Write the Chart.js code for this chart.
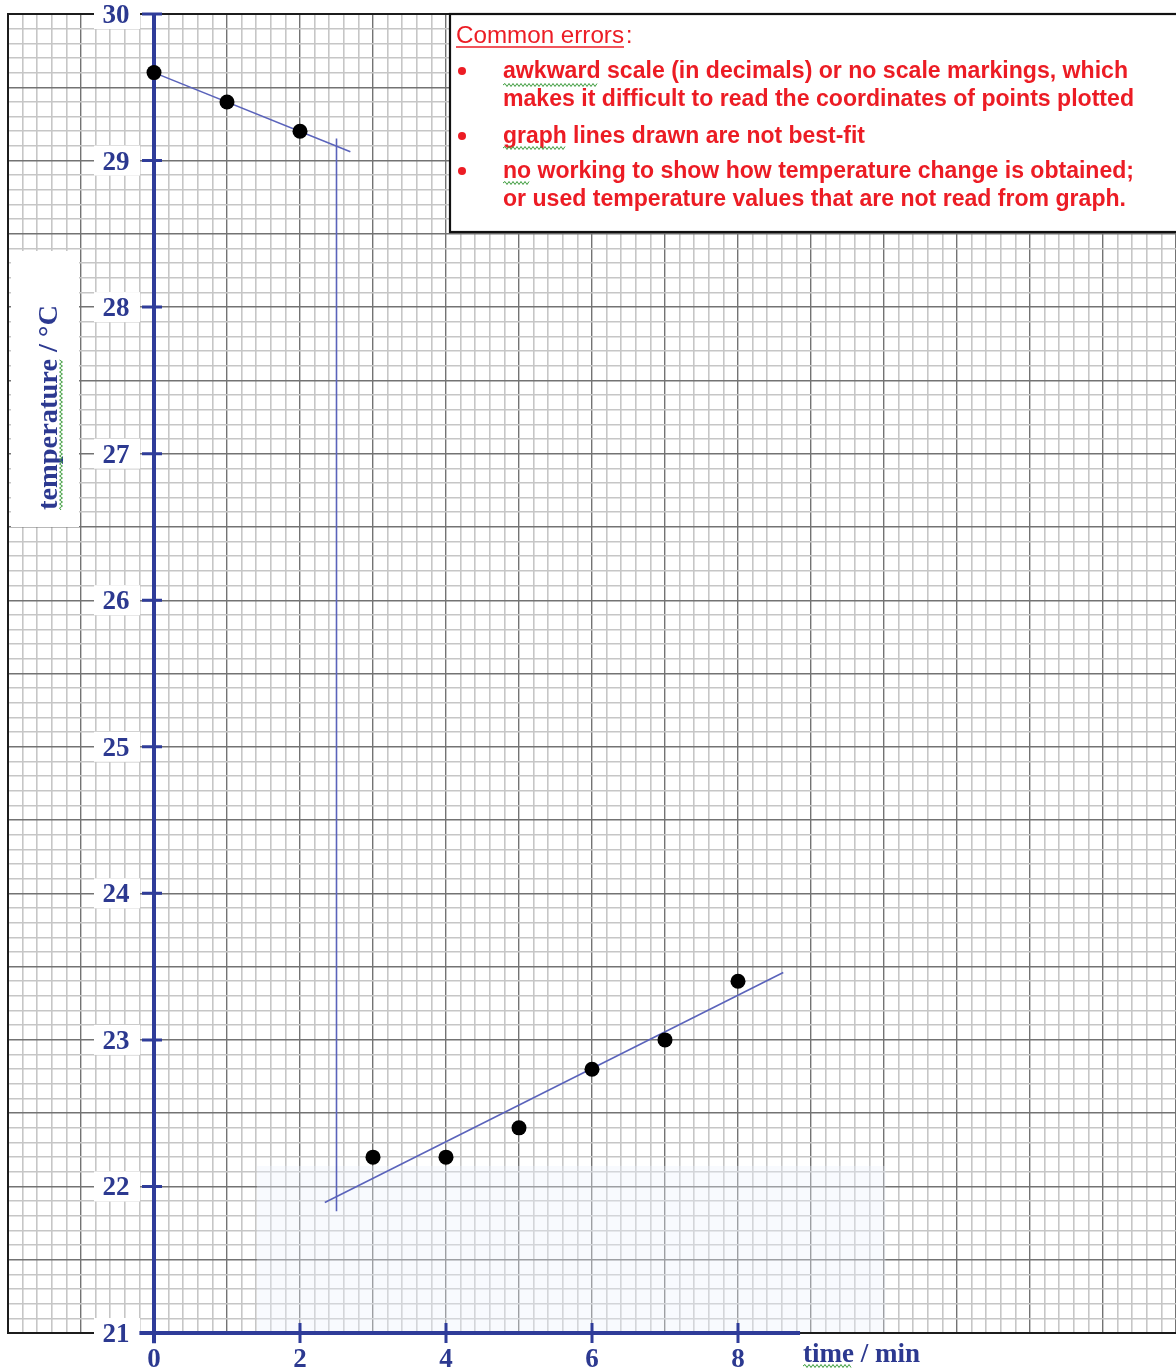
<!DOCTYPE html>
<html>
<head>
<meta charset="utf-8">
<script src="https://cdn.jsdelivr.net/npm/chart.js@4.4.1/dist/chart.umd.min.js"></script>
<style>
  html, body { margin: 0; padding: 0; background: #fff; }
  canvas { display: block; }
</style>
</head>
<body>
<canvas id="graph" width="1176" height="1371"></canvas>
<script>
// readings taken every minute
const times = [0, 1, 2, 3, 4, 5, 6, 7, 8];
const temps = [29.6, 29.4, 29.2, 22.2, 22.2, 22.4, 22.8, 23.0, 23.4];

// lines drawn by hand on the paper
const coolLineX = [0, 2.69];
const coolLineY = [29.6, 29.06];
const dropLineX = [2.5, 2.5];
const dropLineY = [29.15, 21.83];
const warmLineX = [2.34, 8.62];
const warmLineY = [21.89, 23.46];

// drawn axes
const xAxisX = [-0.2, 8.85];
const xAxisY = [21, 21];
const yAxisX = [0, 0];
const yAxisY = [20.93, 30];
const xTickLabels = [0, 2, 4, 6, 8];
const yTickLabels = [21, 22, 23, 24, 25, 26, 27, 28, 29, 30];

const noteTitle = "Common errors";
const notes = [
    ["awkward scale (in decimals) or no scale markings, which",
     "makes it difficult to read the coordinates of points plotted"],
    ["graph lines drawn are not best-fit"],
    ["no working to show how temperature change is obtained;",
     "or used temperature values that are not read from graph."]
];

const AXIS_BLUE = '#2f3c99';
const LINE_BLUE = '#5a63bb';
const LABEL_BLUE = '#2c3990';
const RED = '#ec1c24';
const SERIF = '"Liberation Serif", "DejaVu Serif", serif';
const SANS = '"Liberation Sans", Arial, sans-serif';

function pts(xs, ys) {
    return xs.map((x, i) => ({ x: x, y: ys[i] }));
}

function isMajor(v, step) {
    let r = v / step;
    return Math.abs(r - Math.round(r)) < 1e-6;
}

function wavy(ctx, x1, x2, y) {
    ctx.save();
    ctx.strokeStyle = '#3b9b3b';
    ctx.lineWidth = 1;
    ctx.beginPath();
    ctx.moveTo(x1, y);
    let up = true;
    for (let x = x1 + 2; x <= x2; x += 2) {
        ctx.lineTo(x, up ? y - 1.5 : y + 1.5);
        up = !up;
    }
    ctx.stroke();
    ctx.restore();
}

// draw text stretched or squeezed to a given width
function fitText(ctx, text, x, y, width) {
    let w = ctx.measureText(text).width;
    ctx.save();
    ctx.translate(x, y);
    ctx.scale(width / w, 1);
    ctx.fillText(text, 0, 0);
    ctx.restore();
}

const paperPlugin = {
    id: 'paper',
    beforeDatasetsDraw(chart) {
        const ctx = chart.ctx;
        const a = chart.chartArea;
        const xs = chart.scales.x;
        const ys = chart.scales.y;
        const x0 = xs.getPixelForValue(0);

        ctx.save();
        // faded patch left by the scan watermark
        let wx1 = xs.getPixelForValue(1.41), wx2 = xs.getPixelForValue(10.02);
        let wy = ys.getPixelForValue(22.14);
        ctx.fillStyle = 'rgba(236, 242, 252, 0.35)';
        ctx.fillRect(wx1, wy, wx2 - wx1, a.bottom - wy);

        // edge of the printed grid
        ctx.strokeStyle = '#1c1c1c';
        ctx.lineWidth = 2;
        ctx.strokeRect(a.left, a.top, a.right - a.left + 4, a.bottom - a.top);

        // white patches behind the tick numbers and the title
        ctx.fillStyle = '#fff';
        yTickLabels.forEach(v => {
            let py = ys.getPixelForValue(v);
            ctx.fillRect(x0 - 60, py - 15, 46, 30);
        });
        ctx.fillRect(a.left + 3, 251, 68, 276);
        ctx.restore();
    },
    afterDatasetsDraw(chart) {
        const ctx = chart.ctx;
        const a = chart.chartArea;
        const xs = chart.scales.x;
        const ys = chart.scales.y;
        const x0 = xs.getPixelForValue(0);
        const y0 = ys.getPixelForValue(21);

        ctx.save();
        // tick marks
        ctx.strokeStyle = AXIS_BLUE;
        ctx.lineWidth = 3;
        ctx.beginPath();
        yTickLabels.forEach(v => {
            let py = ys.getPixelForValue(v);
            ctx.moveTo(x0 - 12, py);
            ctx.lineTo(x0 + 8, py);
        });
        xTickLabels.forEach(v => {
            if (v === 0) return;
            let px = xs.getPixelForValue(v);
            ctx.moveTo(px, y0 - 10);
            ctx.lineTo(px, y0 + 10);
        });
        ctx.stroke();

        // tick numbers
        ctx.fillStyle = LABEL_BLUE;
        ctx.font = 'bold 27px ' + SERIF;
        ctx.textAlign = 'center';
        ctx.textBaseline = 'alphabetic';
        yTickLabels.forEach(v => {
            ctx.fillText(String(v), x0 - 38, ys.getPixelForValue(v) + 9);
        });
        xTickLabels.forEach(v => {
            ctx.fillText(String(v), xs.getPixelForValue(v), y0 + 34);
        });

        // axis titles
        ctx.textAlign = 'left';
        ctx.fillText('time / min', 803, y0 + 29);
        wavy(ctx, 803, 852, y0 + 33);

        ctx.save();
        ctx.translate(57, 510);
        ctx.rotate(-Math.PI / 2);
        ctx.font = 'bold 28px ' + SERIF;
        fitText(ctx, 'temperature / \u00B0C', 0, 0, 205);
        let tw = ctx.measureText('temperature').width * 205 / ctx.measureText('temperature / \u00B0C').width;
        wavy(ctx, 0, tw, 4);
        ctx.restore();

        // note box
        const bx = 450, by = a.top;
        ctx.fillStyle = '#fff';
        ctx.fillRect(bx, by, chart.width - bx + 2, 218);
        ctx.strokeStyle = '#111';
        ctx.lineWidth = 2.2;
        ctx.strokeRect(bx, by, chart.width - bx + 4, 218);

        ctx.fillStyle = RED;
        ctx.textAlign = 'left';
        ctx.font = '23px ' + SANS;
        fitText(ctx, noteTitle, 456, by + 29, 168);
        ctx.fillText(':', 626, by + 29);
        ctx.strokeStyle = RED;
        ctx.lineWidth = 1.5;
        ctx.beginPath();
        ctx.moveTo(456, by + 33);
        ctx.lineTo(624, by + 33);
        ctx.stroke();

        ctx.font = 'bold 23px ' + SANS;
        const rows = [[64, 92], [129], [164, 192]];
        const widths = [[625, 631], [362], [631, 623]];
        notes.forEach((lines, i) => {
            ctx.beginPath();
            ctx.arc(462, by + rows[i][0] - 7, 4, 0, Math.PI * 2);
            ctx.fill();
            lines.forEach((t, j) => {
                fitText(ctx, t, 503, by + rows[i][j], widths[i][j]);
            });
        });
        wavy(ctx, 503, 598, by + 71);
        wavy(ctx, 503, 566, by + 134);
        wavy(ctx, 503, 530, by + 169);
        ctx.restore();
    }
};

const ctx = document.getElementById('graph').getContext('2d');

new Chart(ctx, {
    type: 'scatter',
    data: {
        datasets: [
            {
                label: 'readings',
                data: pts(times, temps),
                pointRadius: 7.5,
                pointBackgroundColor: '#000',
                pointBorderWidth: 0
            },
            {
                label: 'cooling',
                data: pts(coolLineX, coolLineY),
                showLine: true,
                pointRadius: 0,
                borderColor: LINE_BLUE,
                borderWidth: 1.6,
                clip: false
            },
            {
                label: 'drop',
                data: pts(dropLineX, dropLineY),
                showLine: true,
                pointRadius: 0,
                borderColor: LINE_BLUE,
                borderWidth: 1.6,
                clip: false
            },
            {
                label: 'warming',
                data: pts(warmLineX, warmLineY),
                showLine: true,
                pointRadius: 0,
                borderColor: LINE_BLUE,
                borderWidth: 1.6,
                clip: false
            },
            {
                label: 'y axis',
                data: pts(yAxisX, yAxisY),
                showLine: true,
                pointRadius: 0,
                borderColor: AXIS_BLUE,
                borderWidth: 4,
                clip: false
            },
            {
                label: 'x axis',
                data: pts(xAxisX, xAxisY),
                showLine: true,
                pointRadius: 0,
                borderColor: AXIS_BLUE,
                borderWidth: 4,
                clip: false
            }
        ]
    },
    options: {
        responsive: false,
        animation: false,
        events: [],
        layout: {
            autoPadding: false,
            padding: { left: 8, top: 14, right: 0, bottom: 38 }
        },
        plugins: {
            legend: { display: false },
            tooltip: { enabled: false }
        },
        scales: {
            x: {
                type: 'linear',
                min: -2,
                max: 14,
                ticks: { display: false, stepSize: 0.2 },
                border: { display: false },
                grid: {
                    drawTicks: false,
                    color: c => isMajor(c.tick.value, 1) ? '#737373' : '#c6c6c6',
                    lineWidth: c => isMajor(c.tick.value, 1) ? 1.4 : 1.6
                }
            },
            y: {
                type: 'linear',
                min: 21,
                max: 30,
                ticks: { display: false, stepSize: 0.1 },
                border: { display: false },
                grid: {
                    drawTicks: false,
                    color: c => isMajor(c.tick.value, 0.5) ? '#737373' : '#c6c6c6',
                    lineWidth: c => isMajor(c.tick.value, 0.5) ? 1.4 : 1.6
                }
            }
        }
    },
    plugins: [paperPlugin]
});
</script>
</body>
</html>
